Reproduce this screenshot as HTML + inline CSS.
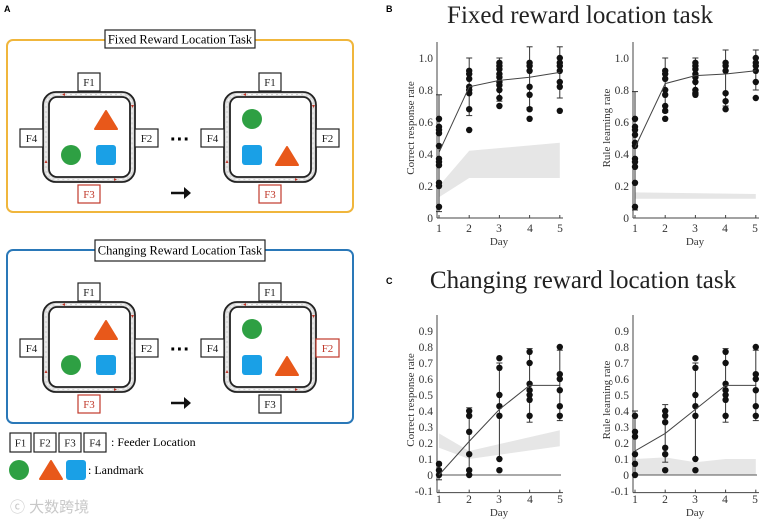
<!DOCTYPE html>
<html><head><meta charset="utf-8"><style>
html,body{margin:0;padding:0;background:#fff;}
svg{display:block;font-family:"Liberation Serif",serif;}
.fb{fill:#fff;stroke:#222;stroke-width:1.2;}
.fr{fill:#fff;stroke:#c0392b;stroke-width:1.2;}
.ft{font-size:11px;fill:#222;text-anchor:middle;}
.frt{font-size:11px;fill:#c0392b;text-anchor:middle;}
.tk{font-size:11.5px;fill:#333;}
.ax{font-size:11px;fill:#333;}
</style></head><body>
<svg id="s" width="761" height="522" viewBox="0 0 761 522" xmlns="http://www.w3.org/2000/svg">
<defs>
<g id="arena">
<rect x="43" y="92" width="92" height="90" rx="13" fill="#d8d8d8" stroke="#222" stroke-width="1.8"/>
<rect x="46" y="94.5" width="86" height="85" rx="11" fill="none" stroke="#fff" stroke-width="0.9" stroke-dasharray="3 2"/>
<rect x="49" y="97" width="81" height="80" rx="8" fill="#fff" stroke="#222" stroke-width="1.8"/>
<path d="M62 94.5 l3 -1.5 v3 z M132.5 108 l-1.5 -3 h3 z M117 179.5 l-3 1.5 v-3 z M46 160 l-1.5 3 h3 z" fill="#c0392b"/>
</g>
<path id="tri" d="M0 -10 L11 8 L-11 8 Z" fill="#e8581a" stroke="#e8581a" stroke-width="2" stroke-linejoin="round"/>
<circle id="cir" r="10" fill="#2ea043"/>
<rect id="sq" x="-10" y="-10" width="20" height="20" rx="3" fill="#1aa0e6"/>
</defs>

<text x="4" y="12" font-family="Liberation Sans,sans-serif" font-weight="bold" font-size="9">A</text>
<rect x="7" y="40" width="346" height="172" rx="6" fill="none" stroke="#f0b63c" stroke-width="2"/>
<rect x="105" y="30" width="150" height="18" fill="#fff" stroke="#222" stroke-width="1.2"/>
<text x="180" y="43.5" font-size="12.5" text-anchor="middle">Fixed Reward Location Task</text>
<use href="#arena"/>
<use href="#tri" x="106" y="121"/><use href="#cir" x="71" y="155"/><use href="#sq" x="106" y="155"/>
<rect class="fb" x="78" y="73" width="22" height="18"/><text class="ft" x="89" y="86">F1</text>
<rect class="fb" x="20" y="129" width="23" height="18"/><text class="ft" x="31.5" y="142">F4</text>
<rect class="fb" x="135" y="129" width="23" height="18"/><text class="ft" x="146.5" y="142">F2</text>
<rect class="fr" x="78" y="185" width="22" height="18"/><text class="frt" x="89" y="198">F3</text>
<text x="180" y="146" font-size="20" font-weight="bold" text-anchor="middle" font-family="Liberation Sans,sans-serif">···</text>
<path d="M171 193 h14" stroke="#111" stroke-width="2.5"/><path d="M184 187 l7 6 l-7 6 z" fill="#111"/>
<g transform="translate(181,0)"><use href="#arena"/>
<use href="#cir" x="71" y="119"/><use href="#sq" x="71" y="155"/><use href="#tri" x="106" y="157"/>
<rect class="fb" x="78" y="73" width="22" height="18"/><text class="ft" x="89" y="86">F1</text>
<rect class="fb" x="20" y="129" width="23" height="18"/><text class="ft" x="31.5" y="142">F4</text>
<rect class="fb" x="135" y="129" width="23" height="18"/><text class="ft" x="146.5" y="142">F2</text>
<rect class="fr" x="78" y="185" width="22" height="18"/><text class="frt" x="89" y="198">F3</text>
</g>

<rect x="7" y="250" width="346" height="173" rx="6" fill="none" stroke="#2a78b8" stroke-width="2"/>
<rect x="95" y="240" width="170" height="21" fill="#fff" stroke="#222" stroke-width="1.2"/>
<text x="180" y="254.5" font-size="12.5" text-anchor="middle">Changing Reward Location Task</text>
<g transform="translate(0,210)"><use href="#arena"/>
<use href="#tri" x="106" y="121"/><use href="#cir" x="71" y="155"/><use href="#sq" x="106" y="155"/>
<rect class="fb" x="78" y="73" width="22" height="18"/><text class="ft" x="89" y="86">F1</text>
<rect class="fb" x="20" y="129" width="23" height="18"/><text class="ft" x="31.5" y="142">F4</text>
<rect class="fb" x="135" y="129" width="23" height="18"/><text class="ft" x="146.5" y="142">F2</text>
<rect class="fr" x="78" y="185" width="22" height="18"/><text class="frt" x="89" y="198">F3</text>
<text x="180" y="146" font-size="20" font-weight="bold" text-anchor="middle" font-family="Liberation Sans,sans-serif">···</text>
<path d="M171 193 h14" stroke="#111" stroke-width="2.5"/><path d="M184 187 l7 6 l-7 6 z" fill="#111"/>
</g>
<g transform="translate(181,210)"><use href="#arena"/>
<use href="#cir" x="71" y="119"/><use href="#sq" x="71" y="155"/><use href="#tri" x="106" y="157"/>
<rect class="fb" x="78" y="73" width="22" height="18"/><text class="ft" x="89" y="86">F1</text>
<rect class="fb" x="20" y="129" width="23" height="18"/><text class="ft" x="31.5" y="142">F4</text>
<rect class="fr" x="135" y="129" width="23" height="18"/><text class="frt" x="146.5" y="142">F2</text>
<rect class="fb" x="78" y="185" width="22" height="18"/><text class="ft" x="89" y="198">F3</text>
</g>

<rect class="fb" x="10" y="433" width="21" height="19"/><text class="ft" x="20.5" y="446.5">F1</text>
<rect class="fb" x="34" y="433" width="22" height="19"/><text class="ft" x="45" y="446.5">F2</text>
<rect class="fb" x="59" y="433" width="22" height="19"/><text class="ft" x="70" y="446.5">F3</text>
<rect class="fb" x="84" y="433" width="22" height="19"/><text class="ft" x="95" y="446.5">F4</text>
<text x="111" y="446" font-size="12">: Feeder Location</text>
<use href="#cir" x="19" y="470"/><use href="#tri" x="51" y="471"/><use href="#sq" x="76" y="470"/>
<text x="88" y="474" font-size="12">: Landmark</text>
<text x="10" y="512" font-size="15" fill="#c8c8c8" font-family="Liberation Sans,'Noto Sans CJK SC',sans-serif">ⓒ 大数跨境</text>

<text x="386" y="12" font-family="Liberation Sans,sans-serif" font-weight="bold" font-size="9">B</text>
<text x="580" y="23" font-size="25" text-anchor="middle" fill="#222">Fixed reward location task</text>
<text x="386" y="284" font-family="Liberation Sans,sans-serif" font-weight="bold" font-size="9">C</text>
<text x="583" y="288" font-size="25" text-anchor="middle" fill="#222">Changing reward location task</text>

<g class="tk" text-anchor="end">
<text x="433" y="222">0</text><text x="433" y="190">0.2</text><text x="433" y="158">0.4</text><text x="433" y="126">0.6</text><text x="433" y="94">0.8</text><text x="433" y="62">1.0</text>
<text x="629" y="222">0</text><text x="629" y="190">0.2</text><text x="629" y="158">0.4</text><text x="629" y="126">0.6</text><text x="629" y="94">0.8</text><text x="629" y="62">1.0</text>
</g>
<g class="tk" text-anchor="middle">
<text x="439" y="232">1</text><text x="469" y="232">2</text><text x="499" y="232">3</text><text x="530" y="232">4</text><text x="560" y="232">5</text>
<text x="635" y="232">1</text><text x="665" y="232">2</text><text x="695" y="232">3</text><text x="725" y="232">4</text><text x="755" y="232">5</text>
<text x="439" y="503">1</text><text x="469" y="503">2</text><text x="499" y="503">3</text><text x="530" y="503">4</text><text x="560" y="503">5</text>
<text x="635" y="503">1</text><text x="665" y="503">2</text><text x="695" y="503">3</text><text x="725" y="503">4</text><text x="755" y="503">5</text>
</g>
<g class="ax" text-anchor="middle">
<text x="499" y="245">Day</text><text x="695" y="245">Day</text>
<text x="499" y="516">Day</text><text x="695" y="516">Day</text>
<text transform="translate(414,128) rotate(-90)">Correct response rate</text>
<text transform="translate(610,128) rotate(-90)">Rule learning rate</text>
<text transform="translate(414,400) rotate(-90)">Correct response rate</text>
<text transform="translate(610,400) rotate(-90)">Rule learning rate</text>
</g>
<g class="tk" text-anchor="end">
<text x="433" y="495">-0.1</text><text x="433" y="479">0</text><text x="433" y="463">0.1</text><text x="433" y="447">0.2</text><text x="433" y="431">0.3</text><text x="433" y="415">0.4</text><text x="433" y="399">0.5</text><text x="433" y="383">0.6</text><text x="433" y="367">0.7</text><text x="433" y="351">0.8</text><text x="433" y="335">0.9</text>
<text x="629" y="495">-0.1</text><text x="629" y="479">0</text><text x="629" y="463">0.1</text><text x="629" y="447">0.2</text><text x="629" y="431">0.3</text><text x="629" y="415">0.4</text><text x="629" y="399">0.5</text><text x="629" y="383">0.6</text><text x="629" y="367">0.7</text><text x="629" y="351">0.8</text><text x="629" y="335">0.9</text>
</g>
<g id="plots"></g>
</svg>
<script>
var NS="http://www.w3.org/2000/svg",G=document.getElementById("plots");
function el(t,a){var e=document.createElementNS(NS,t);for(var k in a)e.setAttribute(k,a[k]);G.appendChild(e);return e;}
function plot(x0,y0,sc,ymin,ymax,band,days,zero){
 var X=function(d){return x0+(d-1)*30.2;},Y=function(v){return y0-v*sc;};
 var p="M"+X(1)+" "+Y(band[0][1]);
 for(var i=1;i<band.length;i++)p+=" L"+X(band[i][0])+" "+Y(band[i][1]);
 for(var i=band.length-1;i>=0;i--)p+=" L"+X(band[i][0])+" "+Y(band[i][2]);
 el("path",{d:p+"Z",fill:"#e6e6e6"});
 el("line",{x1:x0-2,y1:Y(ymin),x2:x0-2,y2:Y(ymax),stroke:"#444","stroke-width":1});
 el("line",{x1:x0-2,y1:Y(ymin),x2:x0+124,y2:Y(ymin),stroke:"#444","stroke-width":1});
 for(var d=1;d<=5;d++)el("line",{x1:X(d),y1:Y(ymin),x2:X(d),y2:Y(ymin)-3,stroke:"#444"});
 if(zero)el("line",{x1:x0-2,y1:Y(0),x2:x0+122,y2:Y(0),stroke:"#555","stroke-width":1});
 var m="";
 days.forEach(function(o,i){var x=X(i+1);
  el("line",{x1:x,y1:Y(o.e[0]),x2:x,y2:Y(o.e[1]),stroke:"#333","stroke-width":1});
  el("line",{x1:x-3,y1:Y(o.e[0]),x2:x+3,y2:Y(o.e[0]),stroke:"#333"});
  el("line",{x1:x-3,y1:Y(o.e[1]),x2:x+3,y2:Y(o.e[1]),stroke:"#333"});
  m+=(i?" L":"M")+x+" "+Y(o.m);
  o.v.forEach(function(v){el("circle",{cx:x,cy:Y(v),r:3.2,fill:"#111"});});
 });
 el("path",{d:m,fill:"none",stroke:"#444","stroke-width":1});
}
plot(439,218,160,0,1.1,[[1,0.13,0.2],[2,0.25,0.42],[5,0.25,0.47]],[
 {m:0.41,e:[0.04,0.77],v:[0.62,0.57,0.55,0.53,0.45,0.37,0.35,0.33,0.22,0.2,0.07]},
 {m:0.82,e:[0.64,1.0],v:[0.92,0.9,0.87,0.82,0.8,0.78,0.68,0.55]},
 {m:0.86,e:[0.73,1.0],v:[0.97,0.95,0.93,0.9,0.88,0.85,0.83,0.8,0.75,0.7]},
 {m:0.88,e:[0.69,1.07],v:[0.97,0.95,0.92,0.82,0.77,0.68,0.62]},
 {m:0.91,e:[0.75,1.07],v:[1.0,0.97,0.95,0.92,0.85,0.82,0.67]}],false);
plot(635,218,160,0,1.1,[[1,0.12,0.16],[5,0.12,0.15]],[
 {m:0.44,e:[0.05,0.79],v:[0.62,0.57,0.55,0.52,0.47,0.45,0.37,0.35,0.32,0.22,0.07]},
 {m:0.84,e:[0.66,1.0],v:[0.92,0.9,0.87,0.8,0.77,0.7,0.67,0.62]},
 {m:0.89,e:[0.78,1.0],v:[0.97,0.95,0.93,0.9,0.88,0.85,0.8,0.78,0.77]},
 {m:0.9,e:[0.7,1.05],v:[0.97,0.95,0.92,0.78,0.73,0.68]},
 {m:0.92,e:[0.8,1.05],v:[1.0,0.97,0.95,0.92,0.85,0.75]}],false);
plot(439,475,160,-0.11,1.0,[[1,0.17,0.26],[2,0.1,0.15],[5,0.18,0.28]],[
 {m:0.0,e:[-0.03,0.06],v:[0.07,0.03,0]},
 {m:0.21,e:[0,0.42],v:[0.4,0.37,0.27,0.13,0.03,0]},
 {m:0.41,e:[0.1,0.7],v:[0.73,0.67,0.5,0.43,0.37,0.1,0.03]},
 {m:0.56,e:[0.33,0.79],v:[0.77,0.7,0.57,0.53,0.5,0.47,0.37]},
 {m:0.56,e:[0.34,0.78],v:[0.8,0.63,0.6,0.53,0.43,0.37]}],true);
plot(635,475,160,-0.11,1.0,[[1,0,0.1],[2,0,0.11],[3,0,0.08],[4,0,0.1],[5,0,0.1]],[
 {m:0.15,e:[0,0.4],v:[0.37,0.27,0.24,0.13,0.07,0]},
 {m:0.26,e:[0.08,0.44],v:[0.4,0.37,0.33,0.17,0.13,0.03]},
 {m:0.41,e:[0.1,0.7],v:[0.73,0.67,0.5,0.43,0.37,0.1,0.03]},
 {m:0.56,e:[0.33,0.79],v:[0.77,0.7,0.57,0.53,0.5,0.47,0.37]},
 {m:0.56,e:[0.34,0.78],v:[0.8,0.63,0.6,0.53,0.43,0.37]}],true);
</script>
</body></html>
